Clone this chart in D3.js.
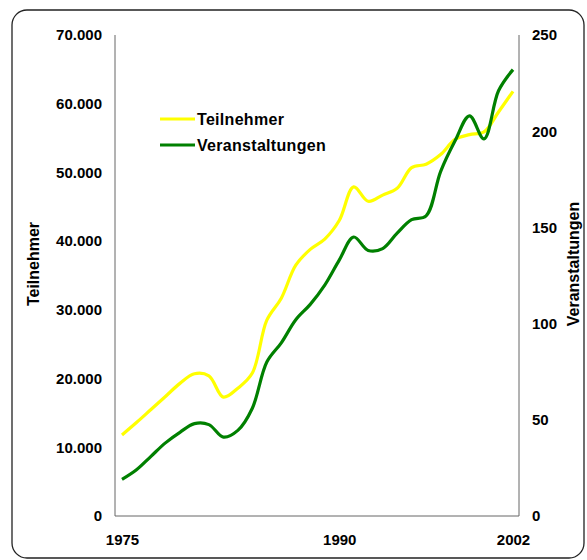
<!DOCTYPE html>
<html>
<head>
<meta charset="utf-8">
<script src="https://cdn.jsdelivr.net/npm/d3@7"></script>
<style>
  body { margin: 0; background: #fff; }
  text { font-family: "Liberation Sans", Arial, sans-serif; font-weight: bold; fill: #000; }
</style>
</head>
<body>
<svg width="587" height="560"></svg>
<script>
var years = d3.range(1975, 2003);
var teilnehmer = [11800, 13600, 15500, 17400, 19300, 20700, 20400, 17300, 18600, 20800,
  28500, 31700, 36500, 38800, 40300, 43000, 47900, 45800, 46700, 47700,
  50700, 51200, 52600, 54800, 55500, 55900, 58800, 61800];
var veranstaltungen = [19, 24, 31, 38, 43.5, 48, 47.5, 41, 44.5, 56,
  80, 90, 102, 110, 120, 133, 145, 138, 139, 147,
  154, 156, 179, 195, 208, 196, 221, 232];
var leftTicks = [0, 10000, 20000, 30000, 40000, 50000, 60000, 70000];
var rightTicks = [0, 50, 100, 150, 200, 250];
var xTicks = [1975, 1990, 2002];

var svg = d3.select("svg");
var plot = { left: 115, right: 519, top: 35, bottom: 516 };

var de = d3.formatLocale({ decimal: ",", thousands: ".", grouping: [3], currency: ["", " €"] });

var x = d3.scaleLinear().domain([1975, 2002]).range([122, 513]),
  yL = d3.scaleLinear().domain([0, 70000]).range([plot.bottom, plot.top]),
  yR = d3.scaleLinear().domain([0, 250]).range([plot.bottom, plot.top]);

// frame
svg.append("rect")
  .attr("x", 12).attr("y", 10)
  .attr("width", 572).attr("height", 548)
  .attr("rx", 15).attr("ry", 15)
  .attr("fill", "none")
  .attr("stroke", "#222")
  .attr("stroke-width", 1.3);

// axis lines
var axisColor = "#666";
svg.append("line").attr("x1", plot.left).attr("x2", plot.left)
  .attr("y1", plot.top).attr("y2", plot.bottom).attr("stroke", axisColor);
svg.append("line").attr("x1", plot.right).attr("x2", plot.right)
  .attr("y1", plot.top).attr("y2", plot.bottom).attr("stroke", axisColor);
svg.append("line").attr("x1", plot.left).attr("x2", plot.right)
  .attr("y1", plot.bottom).attr("y2", plot.bottom).attr("stroke", axisColor);

var gl = svg.append("g")
  .attr("transform", `translate(${plot.left},0)`)
  .call(d3.axisLeft(yL).tickValues(leftTicks).tickSize(0).tickPadding(13).tickFormat(de.format(",")));
var gr = svg.append("g")
  .attr("transform", `translate(${plot.right},0)`)
  .call(d3.axisRight(yR).tickValues(rightTicks).tickSize(0).tickPadding(13));
var gx = svg.append("g")
  .attr("transform", `translate(0,${plot.bottom})`)
  .call(d3.axisBottom(x).tickValues(xTicks).tickSize(0).tickPadding(18).tickFormat(d3.format("d")));

[gl, gr, gx].forEach(g => {
  g.select(".domain").remove();
  g.selectAll("text")
    .style("font-size", "15px")
    .style("font-weight", "bold")
    .style("font-family", '"Liberation Sans", Arial, sans-serif')
    .attr("fill", "#000");
});

// lines
var lineL = d3.line().x((d, i) => x(years[i])).y(d => yL(d)).curve(d3.curveCatmullRom.alpha(0.5));
var lineR = d3.line().x((d, i) => x(years[i])).y(d => yR(d)).curve(d3.curveCatmullRom.alpha(0.5));

svg.append("path").datum(teilnehmer)
  .attr("d", lineL).attr("fill", "none")
  .attr("stroke", "#ffff00").attr("stroke-width", 3.2);
svg.append("path").datum(veranstaltungen)
  .attr("d", lineR).attr("fill", "none")
  .attr("stroke", "#008000").attr("stroke-width", 3.2);

// axis titles
svg.append("text")
  .attr("transform", "translate(39,264) rotate(-90)")
  .attr("text-anchor", "middle")
  .style("font-size", "16px")
  .text("Teilnehmer");
svg.append("text")
  .attr("transform", "translate(579,264) rotate(-90)")
  .attr("text-anchor", "middle")
  .style("font-size", "16px")
  .text("Veranstaltungen");

// legend
var legend = [
  { name: "Teilnehmer", color: "#ffff00" },
  { name: "Veranstaltungen", color: "#008000" }
];
var lg = svg.selectAll(".legend").data(legend).enter().append("g")
  .attr("class", "legend")
  .attr("transform", (d, i) => `translate(160,${119 + i * 26})`);
lg.append("line").attr("x1", 0).attr("x2", 35)
  .attr("stroke", d => d.color).attr("stroke-width", 3.2);
lg.append("text").attr("x", 37).attr("dy", "0.35em")
  .style("font-size", "16px")
  .style("letter-spacing", "0.3px")
  .text(d => d.name);
</script>
</body>
</html>
